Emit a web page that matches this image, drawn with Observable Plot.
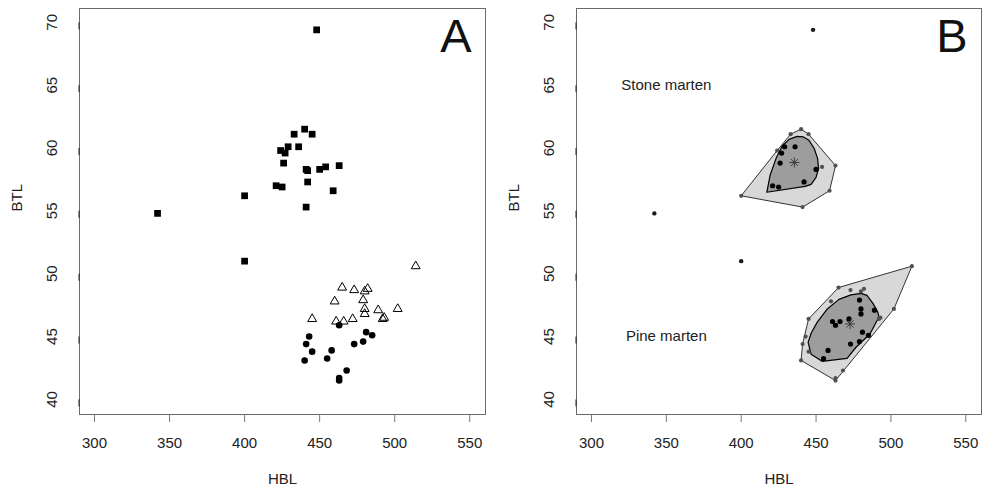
<!DOCTYPE html>
<html><head><meta charset="utf-8">
<script src="https://cdn.jsdelivr.net/npm/d3@7"></script>
<script src="https://cdn.jsdelivr.net/npm/@observablehq/plot@0.6"></script>
<style>
body{margin:0;background:#fff;font-family:"Liberation Sans",Arial,sans-serif;}
#wrap{display:flex;width:989px;height:491px;overflow:hidden;}
</style></head><body><div id="wrap"></div>
<script>
// ---- data ----
const stoneHBL = [448, 440, 445, 433, 436, 429, 424, 427, 426, 441, 442, 450, 454, 463, 442, 421, 425, 459, 400, 441, 342, 400];
const stoneBTL = [69.4, 61.5, 61.1, 61.1, 60.1, 60.1, 59.8, 59.6, 58.8, 58.3, 58.2, 58.3, 58.5, 58.6, 57.3, 57.0, 56.9, 56.6, 56.2, 55.3, 54.8, 51.0];
const stoneOutlierIdx = [0, 20, 21];
const stoneHiddenInB = [9, 10];

const pineTriHBL = [514, 465, 473, 482, 480, 460, 479, 480, 480, 489, 502, 492, 493, 445, 461, 466, 472];
const pineTriBTL = [50.6, 48.9, 48.7, 48.8, 48.6, 47.8, 47.9, 47.2, 46.8, 47.1, 47.2, 46.4, 46.5, 46.4, 46.2, 46.2, 46.4];
const pineCircHBL = [463, 443, 441, 445, 440, 458, 455, 473, 479, 481, 485, 468, 463, 463];
const pineCircBTL = [45.9, 45.0, 44.4, 43.8, 43.1, 43.9, 43.25, 44.4, 44.6, 45.35, 45.1, 42.3, 41.7, 41.5];

const stoneBagHBL = [417.1, 419.3, 423.3, 427.3, 432, 437.3, 441.3, 445.3, 448.7, 451, 451.7, 450, 446.7, 442.7];
const stoneBagBTL = [56.48, 57.83, 59.18, 60.14, 60.69, 60.93, 60.89, 60.61, 59.98, 59.18, 58.38, 57.67, 57.11, 56.95];
const pineBagHBL = [454, 446.7, 444.7, 446.7, 450.7, 457.3, 465.3, 473.3, 480, 484, 488, 491.3, 492, 486, 476.7, 470.7];
const pineBagBTL = [43.03, 43.59, 44.54, 45.26, 46.13, 47.17, 47.96, 48.32, 48.44, 48.28, 47.64, 46.93, 46.55, 45.2, 44.15, 43.27];

const medianHBL = [435.5, 472.7];
const medianBTL = [58.85, 46.0];

const speciesLabels = ["Stone marten", "Pine marten"];
const labelHBL = [350, 350];
const labelBTL = [65, 45];

const xTicks = [300, 350, 400, 450, 500, 550];
const yTicks = [40, 45, 50, 55, 60, 65, 70];
const panelLetters = ["A", "B"];

// ---- tables ----
const zip = (xs, ys) => xs.map((x, i) => ({HBL: x, BTL: ys[i], i}));
const stone = zip(stoneHBL, stoneBTL);
const pineTri = zip(pineTriHBL, pineTriBTL);
const pineCirc = zip(pineCircHBL, pineCircBTL);
const pine = pineTri.concat(pineCirc);
const stoneBag = zip(stoneBagHBL, stoneBagBTL);
const pineBag = zip(pineBagHBL, pineBagBTL);
const medians = zip(medianHBL, medianBTL);
const labels = speciesLabels.map((t, i) => ({t, HBL: labelHBL[i], BTL: labelBTL[i]}));

const stoneLoop = stone.filter(d => !stoneOutlierIdx.includes(d.i));
const stoneOut = stone.filter(d => stoneOutlierIdx.includes(d.i));
const stoneShown = stoneLoop.filter(d => !stoneHiddenInB.includes(d.i));
const poly = arr => arr.map(d => [d.HBL, d.BTL]);
const inPoly = (p, d) => d3.polygonContains(p, [d.HBL, d.BTL]);
const sp = poly(stoneBag), pp = poly(pineBag);
const bagPts = stoneShown.filter(d => inPoly(sp, d)).concat(pine.filter(d => inPoly(pp, d)));
const loopPts = stoneShown.filter(d => !inPoly(sp, d)).concat(pine.filter(d => !inPoly(pp, d)));

const FONT = "Liberation Sans, Arial, Helvetica, sans-serif";

function panel(letter, width, marginLeft, marginRight, marks) {
  return Plot.plot({
    width, height: 491,
    marginTop: 8, marginBottom: 77, marginLeft, marginRight,
    style: {fontFamily: FONT, fontSize: "15px", color: "#222", background: "#fff", overflow: "visible"},
    x: {domain: [290, 560.5]},
    y: {domain: [38.8, 71.1]},
    marks: [
      ...marks,
      Plot.frame({stroke: "#6a6a6a"}),
      Plot.axisX(xTicks, {tickSize: 8, tickPadding: 15, stroke: "#777", fill: "#222", label: null}),
      Plot.axisY(yTicks, {tickSize: 7, tickPadding: 20, rotate: -90, textAnchor: "middle", stroke: "#222", fill: "#222", label: null, line: true}),
      Plot.text([letter], {frameAnchor: "top-right", text: d => d, fontSize: 47, dx: -14, dy: 10, lineAnchor: "top", textAnchor: "end", fill: "#111"}),
      Plot.text(["HBL"], {frameAnchor: "bottom", text: d => d, dy: 59, lineAnchor: "top", fill: "#222"}),
      Plot.text(["BTL"], {frameAnchor: "left", text: d => d, dx: -62, rotate: -90, fill: "#222"})
    ]
  });
}

const xy = {x: "HBL", y: "BTL"};

const A = panel(panelLetters[0], 494, 79, 9, [
  Plot.dot(stone, {...xy, symbol: "square", fill: "black", r: 3.8}),
  Plot.dot(pineTri, {...xy, symbol: "triangle", fill: "none", stroke: "black", strokeWidth: 1, r: 3.3}),
  Plot.dot(pineCirc, {...xy, fill: "black", r: 3.3})
]);

const B = panel(panelLetters[1], 495, 82, 8, [
  Plot.hull(stoneLoop, {...xy, fill: "#d8d8d8", stroke: "#333", strokeWidth: 1}),
  Plot.hull(pine, {...xy, fill: "#d8d8d8", stroke: "#333", strokeWidth: 1}),
  Plot.line(stoneBag, {...xy, curve: "linear-closed", fill: "#9d9d9d", stroke: "#000", strokeWidth: 1.2}),
  Plot.line(pineBag, {...xy, curve: "linear-closed", fill: "#9d9d9d", stroke: "#000", strokeWidth: 1.2}),
  Plot.dot(loopPts, {...xy, fill: "#505050", r: 2.1}),
  Plot.dot(bagPts, {...xy, fill: "#000", r: 2.6}),
  Plot.dot(stoneOut, {...xy, fill: "#1a1a1a", r: 2.2}),
  Plot.dot(medians, {...xy, symbol: "plus", stroke: "#333", strokeWidth: 0.9, r: 3.3}),
  Plot.dot(medians, {...xy, symbol: "times", stroke: "#333", strokeWidth: 0.9, r: 3.3}),
  Plot.text(labels, {...xy, text: "t", fontSize: 15, fill: "#222"})
]);

document.getElementById("wrap").append(A, B);
</script>
</body></html>
